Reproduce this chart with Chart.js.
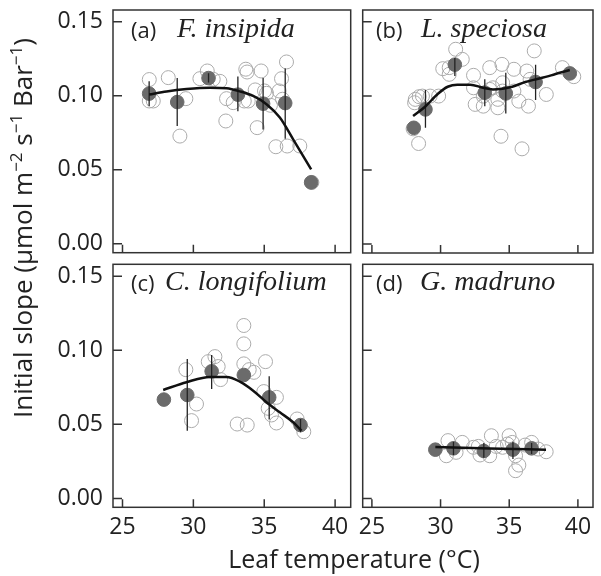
<!DOCTYPE html>
<html>
<head>
    <style>
        body, html {
            margin: 0;
            background: #fff;
        }
        #container {
            position: relative;
            width: 601px;
            height: 576px;
            font-family: "Open Sans", sans-serif;
            color: #222;
        }
        #container canvas {
            position: absolute;
            left: 0;
            top: 0;
        }
        .panelTag {
            position: absolute;
            font-size: 22px;
            line-height: 26px;
        }
        .species {
            position: absolute;
            font-family: "Liberation Serif", serif;
            font-style: italic;
            font-size: 28px;
            line-height: 30px;
        }
        #yTitle {
            position: absolute;
            left: -208px;
            top: 211px;
            width: 460px;
            height: 34px;
            line-height: 34px;
            text-align: center;
            font-size: 26px;
            transform: rotate(-90deg);
            white-space: nowrap;
        }
        #yTitle sup {
            font-size: 17px;
            line-height: 0;
        }
        #xTitle {
            position: absolute;
            left: 154px;
            top: 543px;
            width: 400px;
            text-align: center;
            font-size: 25px;
            line-height: 30px;
        }
    </style>
    <script src="https://cdn.jsdelivr.net/npm/chart.js"></script>
</head>
<body>
    <div id="container">
        <canvas id="panelA" width="601" height="576"></canvas>
        <canvas id="panelB" width="601" height="576"></canvas>
        <canvas id="panelC" width="601" height="576"></canvas>
        <canvas id="panelD" width="601" height="576"></canvas>

        <div class="panelTag" style="left:131px; top:16px;">(a)</div>
        <div class="species" style="left:177px; top:13px;">F. insipida</div>
        <div class="panelTag" style="left:376px; top:16px;">(b)</div>
        <div class="species" style="left:421px; top:13px;">L. speciosa</div>
        <div class="panelTag" style="left:131px; top:269px;">(c)</div>
        <div class="species" style="left:165px; top:266px;">C. longifolium</div>
        <div class="panelTag" style="left:376px; top:269px;">(d)</div>
        <div class="species" style="left:420px; top:266px;">G. madruno</div>

        <div id="yTitle">Initial slope (µmol m<sup>−2</sup> s<sup>−1</sup> Bar<sup>−1</sup>)</div>
        <div id="xTitle">Leaf temperature (°C)</div>
    </div>

    <script>
        // axis ticks
        const xTickVals = [25, 30, 35, 40];
        const yTickVals = [0, 0.05, 0.10, 0.15];

        // (a) F. insipida
        const insipidaObsT = [26.89, 26.89, 27.17, 28.23, 29.05, 29.47, 30.46, 30.98, 31.40, 31.87, 32.29, 32.34, 32.81, 33.70, 33.79, 33.59, 33.87, 34.36, 34.50, 34.78, 35.02, 35.16, 35.44, 35.82, 36.05, 36.22, 36.29, 36.57, 36.62, 37.51, 38.36];
        const insipidaObsV = [0.111, 0.0965, 0.0965, 0.1123, 0.0728, 0.0981, 0.1116, 0.1168, 0.1112, 0.1098, 0.0830, 0.0981, 0.0954, 0.1180, 0.1161, 0.0965, 0.0965, 0.1040, 0.0785, 0.1168, 0.1033, 0.1017, 0.0936, 0.0656, 0.1033, 0.1116, 0.0977, 0.1229, 0.0661, 0.0661, 0.0415];
        const insipidaMeanT = [26.88, 28.86, 31.07, 33.14, 34.92, 36.48, 38.31];
        const insipidaMeanV = [0.1015, 0.0958, 0.112, 0.1008, 0.0947, 0.0951, 0.0415];
        const insipidaErrLo = [0.0931, 0.0796, 0.109, 0.0895, 0.0773, 0.071, null];
        const insipidaErrHi = [0.1098, 0.112, 0.1152, 0.113, 0.112, 0.1184, null];
        const insipidaFitT = [26.88, 28.11, 29.52, 31.16, 32.34, 33.28, 34.22, 35.16, 36.10, 37.04, 38.31];
        const insipidaFitV = [0.1009, 0.103, 0.1046, 0.1055, 0.1051, 0.103, 0.0999, 0.0943, 0.0853, 0.0706, 0.0503];

        // (b) L. speciosa
        const speciosaObsT = [28.0, 28.40, 28.11, 28.44, 28.68, 29.24, 29.86, 28.16, 30.16, 30.63, 31.10, 31.58, 30.63, 32.40, 32.52, 33.11, 33.11, 33.58, 33.58, 34.17, 34.17, 34.40, 34.47, 34.52, 34.52, 35.34, 35.34, 35.70, 35.93, 36.28, 36.40, 36.52, 36.82, 37.70, 38.87, 39.70, 33.81, 32.40];
        const speciosaObsV = [0.0778, 0.0679, 0.0954, 0.0995, 0.0999, 0.0999, 0.0999, 0.0977, 0.1184, 0.1146, 0.1315, 0.1247, 0.1191, 0.1139, 0.0943, 0.0931, 0.0999, 0.1191, 0.1044, 0.0920, 0.0977, 0.0728, 0.1213, 0.1089, 0.1033, 0.1180, 0.1033, 0.0965, 0.0643, 0.1168, 0.0931, 0.1112, 0.1304, 0.1010, 0.1191, 0.1130, 0.1055, 0.1055];
        const speciosaMeanT = [28.05, 28.90, 31.04, 33.22, 34.75, 36.92, 39.41];
        const speciosaMeanV = [0.0785, 0.0909, 0.1211, 0.1022, 0.1017, 0.1094, 0.1152];
        const speciosaErrLo = [null, 0.0785, 0.1134, 0.0931, 0.0882, 0.0972, null];
        const speciosaErrHi = [null, 0.1040, 0.1256, 0.1112, 0.1157, 0.1211, null];
        const speciosaFitT = [28.0, 28.87, 29.81, 30.52, 31.22, 32.16, 33.10, 33.81, 34.52, 35.22, 36.17, 37.11, 38.05, 39.41];
        const speciosaFitV = [0.0864, 0.0927, 0.1015, 0.1062, 0.1076, 0.1076, 0.1055, 0.1044, 0.1049, 0.1062, 0.1094, 0.1116, 0.1139, 0.1175];

        // (c) C. longifolium
        const longifoliumObsT = [29.47, 29.87, 30.22, 31.05, 31.52, 31.75, 31.92, 33.09, 33.80, 33.56, 33.56, 33.56, 33.94, 34.27, 35.09, 34.97, 35.28, 35.51, 35.86, 35.86, 37.32, 37.79];
        const longifoliumObsV = [0.0869, 0.0525, 0.0637, 0.0923, 0.0957, 0.0890, 0.0802, 0.0502, 0.0495, 0.1167, 0.1043, 0.0908, 0.0869, 0.0851, 0.0923, 0.0721, 0.0608, 0.0563, 0.0682, 0.0509, 0.0536, 0.0450];
        const longifoliumMeanT = [27.92, 29.57, 31.29, 33.56, 35.35, 37.56];
        const longifoliumMeanV = [0.0667, 0.0698, 0.0858, 0.0833, 0.0682, 0.0495];
        const longifoliumErrLo = [null, 0.0457, 0.0739, null, 0.0532, 0.0446];
        const longifoliumErrHi = [null, 0.0941, 0.0968, null, 0.0824, 0.0536];
        const longifoliumFitT = [27.87, 29.52, 31.16, 32.34, 33.28, 34.22, 35.16, 36.10, 37.04, 37.63];
        const longifoliumFitV = [0.0732, 0.0784, 0.0820, 0.0820, 0.0788, 0.0727, 0.0649, 0.0581, 0.0514, 0.0457];

        // (d) G. madruno
        const madrunoObsT = [30.54, 31.58, 30.42, 31.13, 32.40, 32.87, 33.58, 33.70, 34.05, 34.52, 34.99, 35.22, 35.46, 35.70, 35.46, 36.16, 36.63, 37.10, 37.69, 32.75, 34.87];
        const madrunoObsV = [0.0390, 0.0378, 0.0288, 0.0311, 0.0345, 0.0293, 0.0288, 0.0423, 0.0351, 0.0345, 0.0423, 0.0378, 0.0288, 0.0225, 0.0187, 0.0360, 0.0378, 0.0333, 0.0315, 0.0351, 0.0367];
        const madrunoMeanT = [29.62, 30.94, 33.15, 35.27, 36.63];
        const madrunoMeanV = [0.0329, 0.0338, 0.0320, 0.0329, 0.0338];
        const madrunoErrLo = [null, 0.0293, 0.0275, 0.0266, 0.0300];
        const madrunoErrHi = [null, 0.0383, 0.0374, 0.0383, 0.0374];
        const madrunoFitT = [29.62, 33.6, 37.68];
        const madrunoFitV = [0.0347, 0.0336, 0.0329];

        const zip = (xs, ys) => xs.map((x, i) => ({ x: x, y: ys[i] }));

        function errorSegments(ts, lo, hi) {
            const pts = [];
            ts.forEach((t, i) => {
                if (lo[i] === null) return;
                pts.push({ x: t, y: lo[i] }, { x: t, y: hi[i] }, { x: t, y: null });
            });
            return pts;
        }

        // frame box and inward tick marks
        const framePlugin = {
            id: 'frame',
            afterDraw(chart) {
                const ctx = chart.ctx;
                const a = chart.chartArea;
                const xs = chart.scales.x, ys = chart.scales.y;
                ctx.save();
                ctx.strokeStyle = '#333';
                ctx.lineWidth = 1.5;
                ctx.strokeRect(a.left, a.top, a.right - a.left, a.bottom - a.top);
                ctx.beginPath();
                xTickVals.forEach(v => {
                    const px = xs.getPixelForValue(v);
                    ctx.moveTo(px, a.bottom);
                    ctx.lineTo(px, a.bottom - 8);
                });
                yTickVals.forEach(v => {
                    const py = ys.getPixelForValue(v);
                    ctx.moveTo(a.left, py);
                    ctx.lineTo(a.left + 9, py);
                });
                ctx.stroke();
                ctx.restore();
            }
        };

        const tickFont = { family: 'Open Sans', size: 23 };

        function makePanel(id, pad, showX, showY, obsT, obsV, meanT, meanV, lo, hi, fitT, fitV) {
            const yW = showY ? 100 : 0;
            const xH = showX ? 50 : 0;
            return new Chart(document.getElementById(id), {
                type: 'scatter',
                data: {
                    datasets: [
                        {
                            data: zip(fitT, fitV),
                            showLine: true,
                            cubicInterpolationMode: 'monotone',
                            borderColor: '#111',
                            borderWidth: 2.5,
                            pointRadius: 0,
                            order: 0
                        },
                        {
                            data: errorSegments(meanT, lo, hi),
                            showLine: true,
                            spanGaps: false,
                            borderColor: '#222',
                            borderWidth: 1.3,
                            pointRadius: 0,
                            order: 1
                        },
                        {
                            data: zip(meanT, meanV),
                            pointRadius: 6.8,
                            backgroundColor: '#6b6b6b',
                            borderColor: '#6b6b6b',
                            borderWidth: 1,
                            order: 2
                        },
                        {
                            data: zip(obsT, obsV),
                            pointRadius: 7,
                            backgroundColor: 'rgba(255,255,255,0)',
                            borderColor: '#ababab',
                            borderWidth: 1,
                            order: 3
                        }
                    ]
                },
                options: {
                    responsive: false,
                    animation: false,
                    layout: {
                        padding: {
                            left: pad.left - yW,
                            top: pad.top,
                            right: pad.right,
                            bottom: pad.bottom - xH
                        }
                    },
                    plugins: {
                        legend: { display: false },
                        tooltip: { enabled: false }
                    },
                    scales: {
                        x: {
                            type: 'linear',
                            min: 24.33,
                            max: 41.1,
                            grid: { display: false, drawTicks: false },
                            border: { display: false },
                            afterBuildTicks: s => { s.ticks = xTickVals.map(v => ({ value: v })); },
                            afterFit: s => {
                                s.height = xH;
                                s.paddingLeft = 0; s.paddingRight = 0;
                            },
                            ticks: {
                                display: showX,
                                padding: 6,
                                maxRotation: 0,
                                color: '#222',
                                font: tickFont
                            }
                        },
                        y: {
                            type: 'linear',
                            min: -0.006,
                            max: 0.158,
                            grid: { display: false, drawTicks: false },
                            border: { display: false },
                            afterBuildTicks: s => { s.ticks = yTickVals.map(v => ({ value: v })); },
                            afterFit: s => {
                                s.width = yW;
                                s.paddingTop = 0; s.paddingBottom = 0;
                            },
                            ticks: {
                                display: showY,
                                padding: 10,
                                color: '#222',
                                font: tickFont,
                                callback: v => v.toFixed(2)
                            }
                        }
                    }
                },
                plugins: [framePlugin]
            });
        }

        makePanel('panelA', { left: 113, top: 10, right: 250.3, bottom: 323.3 }, false, true,
            insipidaObsT, insipidaObsV, insipidaMeanT, insipidaMeanV, insipidaErrLo, insipidaErrHi, insipidaFitT, insipidaFitV);
        makePanel('panelB', { left: 362.7, top: 10, right: 1, bottom: 323 }, false, false,
            speciosaObsT, speciosaObsV, speciosaMeanT, speciosaMeanV, speciosaErrLo, speciosaErrHi, speciosaFitT, speciosaFitV);
        makePanel('panelC', { left: 113, top: 264.3, right: 250.3, bottom: 68.7 }, true, true,
            longifoliumObsT, longifoliumObsV, longifoliumMeanT, longifoliumMeanV, longifoliumErrLo, longifoliumErrHi, longifoliumFitT, longifoliumFitV);
        makePanel('panelD', { left: 362.7, top: 264.3, right: 1, bottom: 68.7 }, true, false,
            madrunoObsT, madrunoObsV, madrunoMeanT, madrunoMeanV, madrunoErrLo, madrunoErrHi, madrunoFitT, madrunoFitV);
    </script>
</body>
</html>
